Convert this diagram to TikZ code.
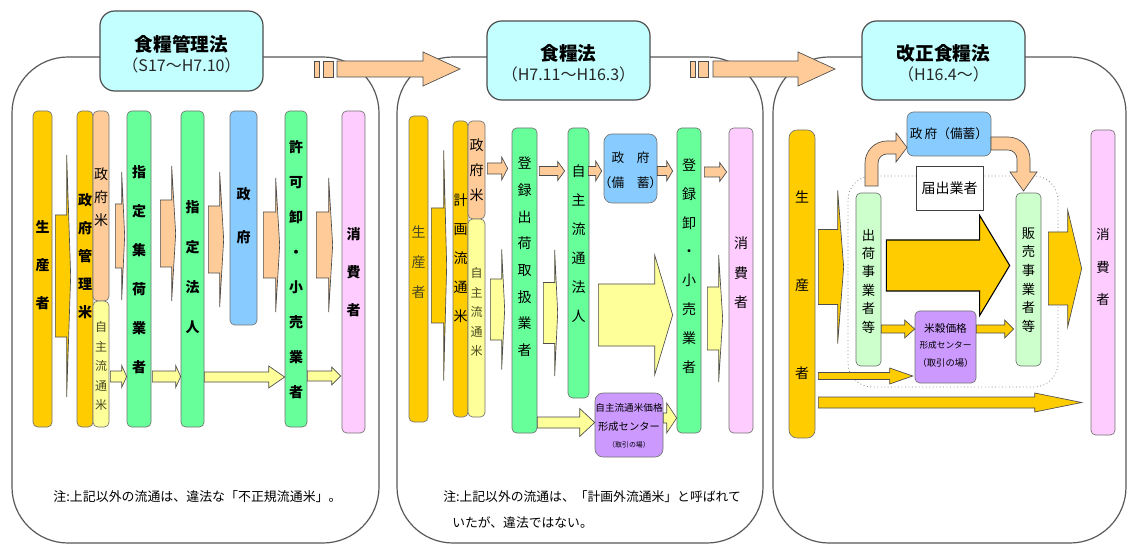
\documentclass[tikz,border=0pt]{standalone}
\usepackage{fontspec}
\setmainfont{Noto Sans CJK JP}
\usetikzlibrary{calc,fit}
\definecolor{cgold}{HTML}{FFCC00}
\definecolor{cpeach}{HTML}{FFCC99}
\definecolor{cgreen}{HTML}{66FF99}
\definecolor{cpale}{HTML}{CCFFCC}
\definecolor{cyel}{HTML}{FFFF99}
\definecolor{cblue}{HTML}{88CCFF}
\definecolor{cpink}{HTML}{FFCCFF}
\definecolor{cpurp}{HTML}{CC99FF}
\definecolor{ccyan}{HTML}{C4FFFF}
\definecolor{colive}{HTML}{4A4A20}
\tikzset{
  panel/.style={draw=black!65, line width=0.9pt, rounded corners=42pt, inner sep=0pt},
  ttl/.style={draw=black!70, fill=ccyan, line width=0.9pt, rounded corners=11pt, inner sep=0pt},
  bar/.style={draw=black!55, line width=0.5pt, rounded corners=3.5pt, inner sep=0pt},
  vt/.style 2 args={align=center, inner sep=0pt, font=\fontsize{#1}{#2}\selectfont},
  vtb/.style 2 args={align=center, inner sep=0pt, font=\fontsize{#1}{#2}\selectfont\bfseries},
  lbl/.style={inner sep=0pt, font=\fontsize{#1}{#1}\selectfont},
  parr/.style={fill=cpeach, draw=black!70, line width=0.5pt},
  yarr/.style={fill=cyel, draw=black!70, line width=0.5pt},
  garr/.style={fill=cgold, draw=black!70, line width=0.5pt},
  garrk/.style={fill=cgold, draw=black, line width=0.8pt},
}
% block arrow: from, to, y, gap1, gap2, shaft half, head half, head length, style
\newcommand\barrow[9]{%
  \coordinate (bs) at ($(#1.east|-0,#3)+(#4,0)$);
  \coordinate (be) at ($(#2.west|-0,#3)+(-#5,0)$);
  \draw[#9] ($(bs)+(0,-#6)$) -- ($(be)+(-#8,-#6)$) -- ($(be)+(-#8,-#7)$) -- (be)
    -- ($(be)+(-#8,#7)$) -- ($(be)+(-#8,#6)$) -- ($(bs)+(0,#6)$) -- cycle;}
\begin{document}
\begin{tikzpicture}[x=0.75pt,y=-0.75pt]
\path[use as bounding box, fill=white] (0,0) rectangle (1128,545);

% ---------- panels ----------
\node[panel, fit={(12,57) (379,543)}] (P1) {};
\node[panel, fit={(397,57) (763,543)}] (P2) {};
\node[panel, fit={(773,57) (1126,543)}] (P3) {};

% ---------- titles ----------
\node[ttl, fit={(100,11) (263,91)}] (h1) {};
\node[lbl=14, font=\fontsize{14}{14}\selectfont\bfseries] (h1a) at (181.5,44) {食糧管理法};
\node[lbl=12, text=black!85] (h1b) at (181.5,65) {（S17～H7.10）};
\node[ttl, fit={(487,21) (650,100)}] (h2) {};
\node[lbl=14, font=\fontsize{14}{14}\selectfont\bfseries] (h2a) at (568.5,53) {食糧法};
\node[lbl=12, text=black!85] (h2b) at (568.5,74) {（H7.11～H16.3）};
\node[ttl, fit={(862,21) (1025,100)}] (h3) {};
\node[lbl=14, font=\fontsize{14}{14}\selectfont\bfseries] (h3a) at (943.5,53) {改正食糧法};
\node[lbl=12, text=black!85] (h3b) at (943.5,74) {（H16.4～）};

% ---------- transition arrows ----------
\draw[parr] (314,61) rectangle (319,77);
\draw[parr] (323,61) rectangle (333,77);
\draw[parr] (337,61) -- (423,61) -- (423,52) -- (460,69) -- (423,86) -- (423,77) -- (337,77) -- cycle;
\draw[parr] (690,61) rectangle (695,77);
\draw[parr] (698,61) rectangle (708,77);
\draw[parr] (713,61) -- (798,61) -- (798,52) -- (835,69) -- (798,86) -- (798,77) -- (713,77) -- cycle;

% ---------- panel 1 ----------
\node[bar, fill=cgold, fit={(33,111) (52,427)}] (a1) {};
\node[bar, fill=cgold, fit={(77,111) (93,427)}] (a2) {};
\node[bar, fill=cpeach, fit={(93,111) (109,301)}] (a3) {};
\node[bar, fill=cyel, fit={(93,301) (109,427)}] (a4) {};
\node[bar, fill=cgreen, fit={(127,111) (151,427)}] (a5) {};
\node[bar, fill=cgreen, fit={(181,111) (204,427)}] (a6) {};
\node[bar, fill=cblue, fit={(230,111) (257,325)}] (a7) {};
\node[bar, fill=cgreen, fit={(285,111) (307,427)}] (a8) {};
\node[bar, fill=cpink, fit={(342,111) (365,433)}] (a9) {};

\barrow{a1}{a2}{276}{3}{6}{61}{121}{4}{garr}
\barrow{a3}{a5}{236}{6}{2}{32}{64}{3}{parr}
\barrow{a4}{a5}{376.5}{1}{0}{5.5}{11}{5}{yarr}
\barrow{a5}{a6}{233.5}{9}{5}{33.5}{67.5}{4}{parr}
\barrow{a5}{a6}{376.5}{1}{0}{5.5}{11}{5}{yarr}
\barrow{a6}{a7}{239.5}{4}{6}{33.5}{67.5}{4}{parr}
\barrow{a7}{a8}{245}{6}{5}{33}{67}{4}{parr}
\barrow{a8}{a9}{245}{9}{9}{33}{67}{4}{parr}
\barrow{a6}{a8}{377}{0}{0}{5}{11}{16}{yarr}
\barrow{a8}{a9}{376}{0}{1}{5}{9}{9}{yarr}

\node[vtb={10.5}{28.5}] (ta1) at (42.5,265) {生\\産\\者};
\node[vtb={10.5}{21}] (ta2) at (85,256) {政\\府\\管\\理\\米};
\node[vt={10.5}{17.25}] (ta3) at (101,197) {政\\府\\米};
\node[vt={9}{14.6}, text=colive] (ta4) at (101,366) {自\\主\\流\\通\\米};
\node[vtb={10.5}{29.25}] (ta5) at (139,270) {指\\定\\集\\荷\\業\\者};
\node[vtb={10.5}{30}] (ta6) at (192.5,267) {指\\定\\法\\人};
\node[vtb={10.5}{32.25}] (ta7) at (243.5,216) {政\\府};
\node[vtb={10.5}{26.25}] (ta8) at (296,269.5) {許\\可\\卸\\・\\小\\売\\業\\者};
\node[vtb={10.5}{28.5}] (ta9) at (353.5,272) {消\\費\\者};

\node[lbl=9.7] (n1) at (197.5,497) {注:上記以外の流通は、違法な「不正規流通米」。};

% ---------- panel 2 ----------
\node[bar, fill=cgold, fit={(409,116) (428,422)}] (b1) {};
\node[bar, fill=cgold, fit={(453,121) (468,417)}] (b2) {};
\node[bar, fill=cpeach, fit={(468,121) (485,219)}] (b3) {};
\node[bar, fill=cyel, fit={(468,219) (485,417)}] (b4) {};
\node[bar, fill=cgreen, fit={(512,128) (537,433)}] (b5) {};
\node[bar, fill=cgreen, fit={(568,128) (589,398)}] (b6) {};
\node[bar, fill=cblue, rounded corners=6pt, fit={(604,134) (657,203)}] (b7) {};
\node[bar, fill=cgreen, fit={(677,128) (701,433)}] (b8) {};
\node[bar, fill=cpink, fit={(729,128) (753,433)}] (b9) {};
\node[bar, fill=cpurp, rounded corners=6pt, fit={(595,393) (663,457)}] (b10) {};

\barrow{b1}{b2}{265.5}{3}{6}{57.5}{115}{3}{garr}
\barrow{b3}{b5}{168.5}{2}{4}{5.5}{11.5}{6}{parr}
\barrow{b4}{b5}{309.5}{5}{7}{30.5}{60}{3}{yarr}
\barrow{b5}{b6}{171}{2}{3}{4.5}{9.5}{7}{parr}
\barrow{b5}{b6}{313}{6}{10}{30.5}{63}{3}{yarr}
\barrow{b5}{b10}{422.5}{0}{0}{5.5}{14}{15}{yarr}
\barrow{b6}{b7}{171}{-1}{2}{4.5}{10}{6}{parr}
\barrow{b7}{b8}{171}{0}{4}{4.5}{10}{6}{parr}
\barrow{b8}{b9}{172}{3}{2}{5}{9.5}{7}{parr}
\barrow{b6}{b8}{315}{9}{4}{31}{60}{18}{yarr}
\barrow{b8}{b9}{318.5}{6}{6}{31.5}{63.5}{4}{yarr}
\barrow{b10}{b8}{418}{0}{0}{5}{15}{10}{yarr}

\node[vt={10.5}{22.5}, text=colive] (tb1) at (418.5,262) {生\\産\\者};
\node[vt={10.5}{21.75}] (tb2) at (460.5,258) {計\\画\\流\\通\\米};
\node[vt={10.5}{18.75}] (tb3) at (476.5,170) {政\\府\\米};
\node[vt={9}{14.6}, text=colive] (tb4) at (476.5,312) {自\\主\\流\\通\\米};
\node[vt={10.5}{20}] (tb5) at (524.5,257) {登\\録\\出\\荷\\取\\扱\\業\\者};
\node[vt={10.5}{21.75}] (tb6) at (578.5,244) {自\\主\\流\\通\\法\\人};
\node[vt={9.5}{18.75}] (tb7) at (630.5,170.5) {政\quad 府\\（備\quad 蓄）};
\node[vt={10.5}{21.6}] (tb8) at (689,266) {登\\録\\卸\\・\\小\\売\\業\\者};
\node[vt={10.5}{22.1}] (tb9) at (741,273) {消\\費\\者};
\node[lbl=7.2] (tb10a) at (629,408) {自主流通米価格};
\node[lbl=7.7] (tb10b) at (629,427) {形成センター};
\node[lbl=5.2] (tb10c) at (629,445) {（取引の場）};

\node[lbl=9.6, anchor=west] (n2a) at (443,497) {注:上記以外の流通は、「計画外流通米」と呼ばれて};
\node[lbl=9.6, anchor=west] (n2b) at (452,523) {いたが、違法ではない。};

% ---------- panel 3 ----------
\node[draw=black!50, dotted, line width=0.6pt, rounded corners=18pt, inner sep=0pt, fit={(848,176) (1058,387)}] (c0) {};
\node[bar, fill=cgold, rounded corners=6pt, fit={(789,130) (815,438)}] (c1) {};
\node[bar, fill=cpale, fit={(856,193) (881,366)}] (c2) {};
\node[bar, fill=cpale, fit={(1016,193) (1041,366)}] (c3) {};
\node[bar, fill=cblue, rounded corners=5pt, fit={(907,112) (991,156)}] (c4) {};
\node[draw=black!75, fill=white, line width=0.6pt, inner sep=0pt, fit={(916,166) (983,210)}] (c5) {};
\node[bar, fill=cpurp, fit={(915,311) (976,383)}] (c6) {};
\node[bar, fill=cpink, fit={(1091,130) (1115,435)}] (c7) {};

\barrow{c1}{c2}{267}{3}{12}{37.5}{76.5}{6}{garr}
\barrow{c2}{c3}{265.5}{5}{6}{25.5}{50}{30}{garrk}
\barrow{c2}{c6}{329}{0}{0}{4}{9}{10}{garr}
\barrow{c6}{c3}{329}{0}{2}{4}{9}{9}{garr}
\barrow{c1}{c6}{376}{3}{2}{3.5}{8}{23}{garr}
\barrow{c1}{c7}{402.5}{3}{9}{5.5}{9.5}{47}{garr}
\barrow{c3}{c7}{268.5}{7}{9}{36.5}{58.5}{14}{garr}

% curved arrows via government stockpile
\draw[parr] (865,186) -- (865,163) .. controls (865,150.85) and (874.85,141) .. (887,141)
  -- (896,141) -- (896,133) -- (907,147.5) -- (896,162) -- (896,154) -- (887,154)
  .. controls (882.03,154) and (878,158.03) .. (878,163) -- (878,186) -- cycle;
\draw[parr] (991,137) -- (1008,137) .. controls (1020.15,137) and (1030,146.85) .. (1030,159)
  -- (1030,172) -- (1037,172) -- (1023.5,191) -- (1010,172) -- (1017,172) -- (1017,159)
  .. controls (1017,154.03) and (1012.97,150) .. (1008,150) -- (991,150) -- cycle;

\node[vt={10.5}{66}] (tc1) at (802,285) {生\\産\\者};
\node[vt={10}{13.8}] (tc2) at (868.5,281) {出\\荷\\事\\業\\者\\等};
\node[vt={10}{14}] (tc3) at (1028.5,280) {販\\売\\事\\業\\者\\等};
\node[lbl=9.5] (tc4) at (949,134) {政\,府（備蓄）};
\node[lbl=10.5] (tc5) at (949.5,188) {届出業者};
\node[lbl=8] (tc6a) at (945.5,328) {米穀価格};
\node[lbl=6.5] (tc6b) at (945.5,345) {形成センター};
\node[lbl=7] (tc6c) at (945.5,363) {（取引の場）};
\node[vt={10}{24.4}] (tc7) at (1103,267) {消\\費\\者};
\end{tikzpicture}
\end{document}
